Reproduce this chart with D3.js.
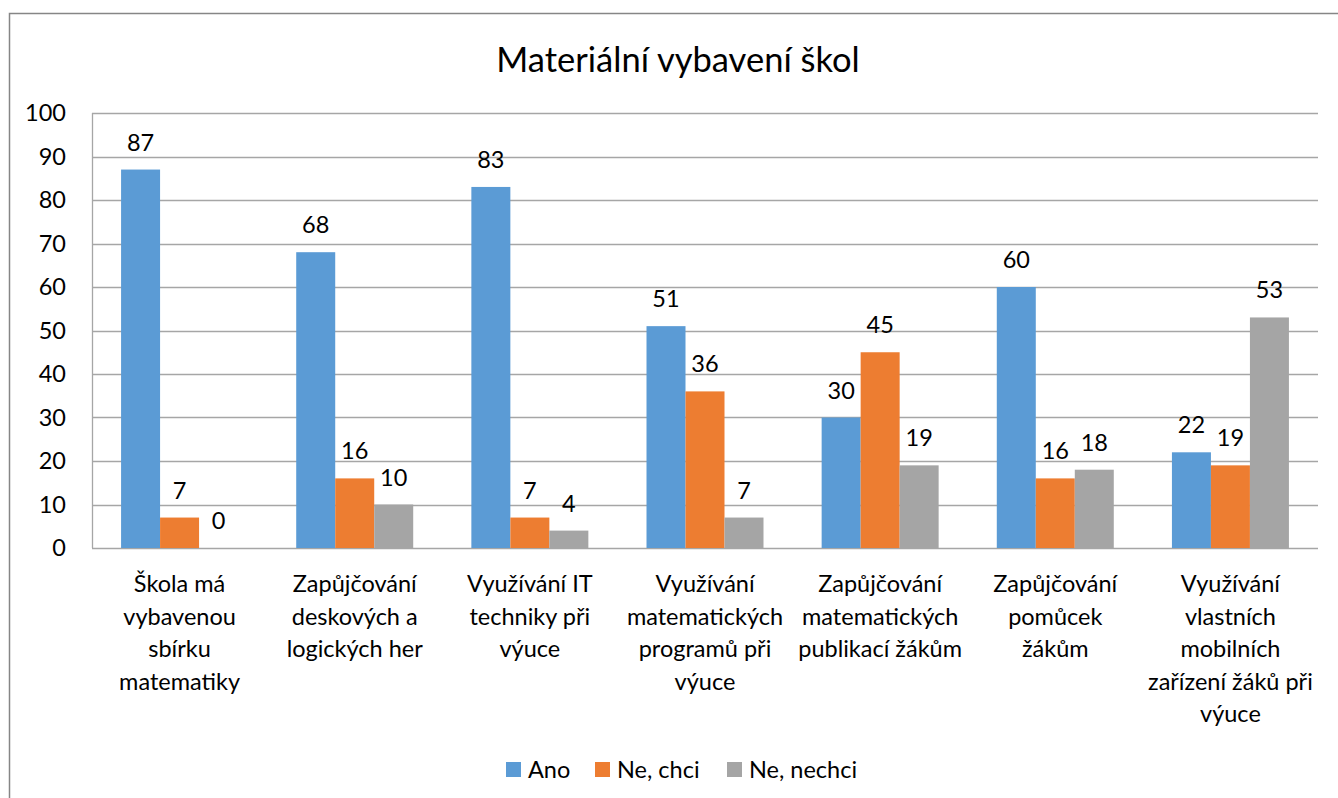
<!DOCTYPE html>
<html><head><meta charset="utf-8">
<script src="https://cdn.jsdelivr.net/npm/d3@7"></script>
<style>
body{margin:0;background:#fff;}
text{font-family:Lato,"Open Sans",sans-serif;fill:#000;}
</style></head>
<body>
<svg id="c" width="1338" height="798"></svg>
<script>
const title = "Materiální vybavení škol";
const categories = [
  ["Škola má","vybavenou","sbírku","matematiky"],
  ["Zapůjčování","deskových a","logických her"],
  ["Využívání IT","techniky při","výuce"],
  ["Využívání","matematických","programů při","výuce"],
  ["Zapůjčování","matematických","publikací žákům"],
  ["Zapůjčování","pomůcek","žákům"],
  ["Využívání","vlastních","mobilních","zařízení žáků při","výuce"]
];
const seriesNames = ["Ano","Ne, chci","Ne, nechci"];
const ano = [87,68,83,51,30,60,22];
const neChci = [7,16,7,36,45,16,19];
const neNechci = [0,10,4,7,19,18,53];
const colors = ["#5B9BD5","#ED7D31","#A5A5A5"];
const yTicks = [0,10,20,30,40,50,60,70,80,90,100];

const series = [ano, neChci, neNechci];
const svg = d3.select("#c");
const L = 92, R = 1318, T = 113, B = 548;
const FS = 23.5;

// outer border
svg.append("rect").attr("x",9.5).attr("y",13.5).attr("width",1400).attr("height",900)
  .attr("fill","none").attr("stroke","#868686").attr("stroke-width",1.5);

const x = d3.scaleBand().domain(d3.range(categories.length)).range([L,R]).paddingInner(0.332).paddingOuter(0.166);
const xi = d3.scaleBand().domain(d3.range(3)).range([0,x.bandwidth()]);
const y = d3.scaleLinear().domain([0,100]).range([B,T]);

// grid
svg.append("g").selectAll("line").data(yTicks).join("line")
  .attr("x1",L).attr("x2",R).attr("y1",d=>Math.round(y(d))+0.5).attr("y2",d=>Math.round(y(d))+0.5)
  .attr("stroke","#A6A6A6").attr("stroke-width",1.3);
svg.append("line").attr("x1",L+0.5).attr("x2",L+0.5).attr("y1",T).attr("y2",B).attr("stroke","#A6A6A6").attr("stroke-width",1.3);

// y tick labels
svg.append("g").selectAll("text").data(yTicks).join("text")
  .attr("x",66).attr("y",d=>y(d)).attr("dy","0.36em").attr("text-anchor","end")
  .attr("font-size",FS).text(d=>d);

// bars
series.forEach((s,si)=>{
  const g = svg.append("g");
  g.selectAll("rect").data(s).join("rect")
    .attr("x",(d,i)=>x(i)+xi(si)).attr("width",xi.bandwidth())
    .attr("y",d=>y(d)).attr("height",d=>B-y(d)).attr("fill",colors[si]);
  g.selectAll("text").data(s).join("text")
    .attr("x",(d,i)=>x(i)+xi(si)+xi.bandwidth()/2).attr("y",d=>y(d)-19)
    .attr("text-anchor","middle").attr("font-size",FS).text(d=>d);
});

// category labels
categories.forEach((lines,i)=>{
  const t = svg.append("text").attr("text-anchor","middle").attr("font-size",FS);
  lines.forEach((ln,j)=>{
    t.append("tspan").attr("x",x(i)+x.bandwidth()/2).attr("y",592+j*32.5).text(ln);
  });
});

// title
svg.append("text").attr("x",678).attr("y",72).attr("text-anchor","middle").attr("font-size",34.5).text(title);

// legend
const legX = [506,595,727];
seriesNames.forEach((n,i)=>{
  svg.append("rect").attr("x",legX[i]).attr("y",762).attr("width",15).attr("height",15).attr("fill",colors[i]);
  svg.append("text").attr("x",legX[i]+22).attr("y",778).attr("font-size",FS).text(n);
});
</script>
</body></html>
